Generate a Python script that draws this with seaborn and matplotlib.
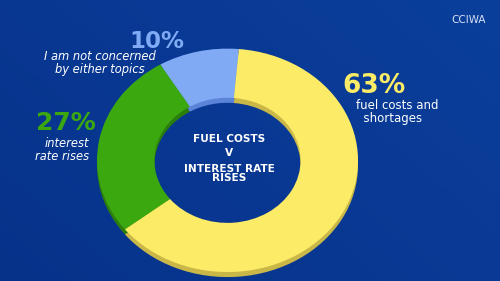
import matplotlib
matplotlib.use("Agg")
import matplotlib.pyplot as plt
import seaborn as sns
import numpy as np

categories = ["I am not concerned\nby either topics", "interest\nrate rises", "fuel costs and\n  shortages"]
values = [10, 27, 63]
pct_labels = ["10%", "27%", "63%"]
center_lines = ["FUEL COSTS", "V", "INTEREST RATE\nRISES"]
colors = ["#80AAF4", "#3BA80F", "#FBEB66"]
dark_colors = ["#5B84D8", "#2C7E0A", "#C9B848"]

sns.set_theme(style="white")
plt.rcParams['font.family'] = ['DejaVu Sans']

bg = "#0A388C"
fig = plt.figure(figsize=(5, 2.81), dpi=100, facecolor=bg)
bax = fig.add_axes([0, 0, 1, 1])
grad = np.linspace(0, 1, 256)[None, :] * np.ones((256, 1))
grad = grad * 0.6 + np.linspace(1, 0, 256)[:, None] * 0.4
bax.imshow(grad, aspect='auto',
           cmap=matplotlib.colors.LinearSegmentedColormap.from_list('g', ["#07328A", "#0A3F9C"]),
           extent=[0, 1, 0, 1])
bax.set_axis_off()

ax = fig.add_axes([0.194, 0.012, 0.522, 0.815])
ax.set_facecolor("none")
start = 85
ax.pie(values, colors=dark_colors, startangle=start, counterclock=True,
       radius=1.0, center=(0, -0.045), wedgeprops=dict(width=0.44, linewidth=0))
ax.pie(values, colors=colors, startangle=start, counterclock=True,
       radius=1.0, center=(0, 0), wedgeprops=dict(width=0.44, linewidth=0))
ax.set_aspect('auto')
ax.set_xlim(-1.0, 1.0)
ax.set_ylim(-1.05, 1.0)

# center title
fig.text(0.458, 0.505, center_lines[0], ha='center', va='center', color='white',
         fontsize=7.6, fontweight='bold')
fig.text(0.458, 0.456, center_lines[1], ha='center', va='center', color='white',
         fontsize=7.6, fontweight='bold')
fig.text(0.458, 0.382, center_lines[2], ha='center', va='center', color='white',
         fontsize=7.6, fontweight='bold', linespacing=0.95, multialignment='center')

# annotations
fig.text(0.258, 0.852, pct_labels[0], color=colors[0], fontsize=16.5, fontweight='bold', ha='left', va='center')
fig.text(0.200, 0.776, categories[0], color='white', fontsize=8.3, style='italic',
         ha='center', va='center', linespacing=0.95, multialignment='center')

fig.text(0.072, 0.562, pct_labels[1], color=colors[1], fontsize=18, fontweight='bold', ha='left', va='center')
fig.text(0.178, 0.466, categories[1], color='white', fontsize=8.3, style='italic',
         ha='right', va='center', linespacing=0.95, multialignment='right')

fig.text(0.684, 0.694, pct_labels[2], color=colors[2], fontsize=19, fontweight='bold', ha='left', va='center')
fig.text(0.713, 0.601, categories[2], color='white', fontsize=8.5,
         ha='left', va='center', linespacing=0.95, multialignment='left')

fig.text(0.972, 0.929, "CCIWA", color='#D8E2F5', fontsize=7.5, ha='right', va='center')

fig.savefig("out.png", dpi=100, facecolor=bg)
